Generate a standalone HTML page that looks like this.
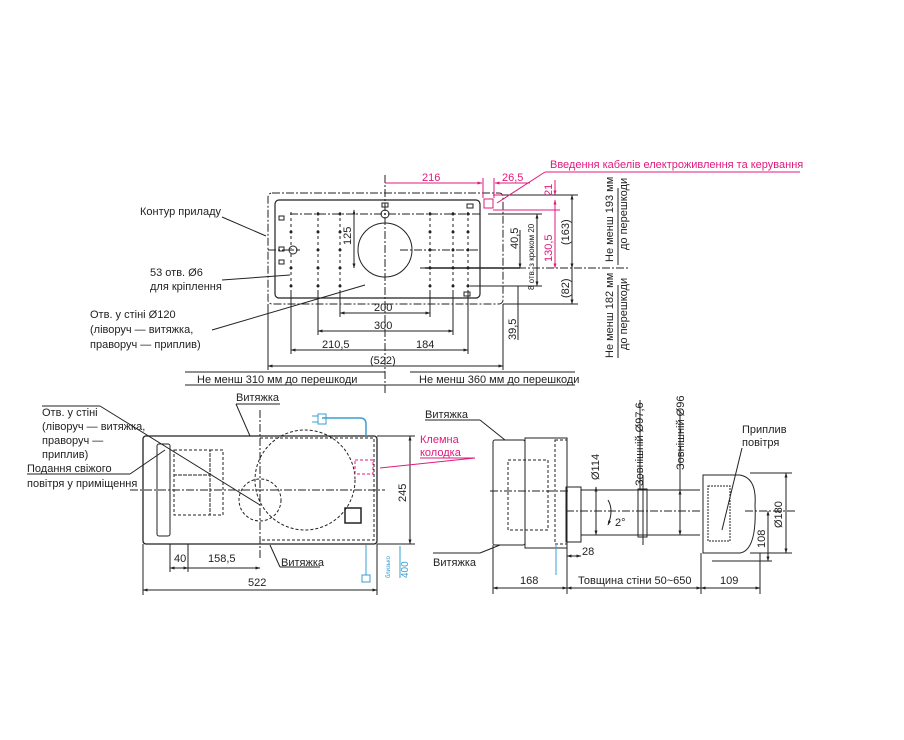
<!DOCTYPE html>
<html><head><meta charset="utf-8"><style>
html,body{margin:0;padding:0;background:#fff;}
svg{display:block;font-family:"Liberation Sans",sans-serif;}
text{font-size:11px;fill:#222;}
.m{fill:#e0197d;}
.b{fill:#3a9fd0;}
</style></head><body>
<svg width="904" height="740" viewBox="0 0 904 740" xmlns="http://www.w3.org/2000/svg">
<defs>
<marker id="a" viewBox="0 0 10 10" refX="9" refY="5" markerWidth="5" markerHeight="5" orient="auto-start-reverse"><path d="M0,2 L10,5 L0,8z" fill="#222"/></marker>
<marker id="am" viewBox="0 0 10 10" refX="9" refY="5" markerWidth="5" markerHeight="5" orient="auto-start-reverse"><path d="M0,2 L10,5 L0,8z" fill="#e0197d"/></marker>
</defs>
<g stroke="#222" fill="none" stroke-width="1">
<!-- TOP VIEW -->
<rect x="268" y="193" width="235" height="111" rx="4" stroke-dasharray="8,2,2,2"/>
<rect x="275" y="200" width="205" height="98" rx="4" stroke-width="1.2"/>
<circle cx="385" cy="250" r="27"/>
<circle cx="385" cy="214" r="4"/><circle cx="293" cy="250" r="4"/>
<line x1="385" y1="175" x2="385" y2="395" stroke-dasharray="8,2,2,2"/>
<line x1="268" y1="250" x2="300" y2="250" stroke-dasharray="8,2,2,2"/>
<line x1="400" y1="250" x2="480" y2="250" stroke-dasharray="8,2,2,2"/>
<line x1="290" y1="214" x2="480" y2="214" stroke-dasharray="8,2,2,2"/>
<line x1="420" y1="268" x2="630" y2="268" stroke-dasharray="8,2,2,2"/>
<line x1="425" y1="268" x2="520" y2="268" stroke-width="1.5"/>
<g stroke-dasharray="3,3">
<line x1="291" y1="212" x2="291" y2="290"/><line x1="318" y1="212" x2="318" y2="290"/><line x1="340" y1="212" x2="340" y2="290"/>
<line x1="430" y1="212" x2="430" y2="290"/><line x1="453" y1="212" x2="453" y2="290"/><line x1="468" y1="212" x2="468" y2="290"/>
</g>
<g fill="#222" stroke="none">
<circle cx="291" cy="232" r="1.5"/><circle cx="291" cy="268" r="1.5"/><circle cx="291" cy="286" r="1.5"/>
<circle cx="318" cy="214" r="1.5"/><circle cx="318" cy="232" r="1.5"/><circle cx="318" cy="250" r="1.5"/><circle cx="318" cy="268" r="1.5"/><circle cx="318" cy="286" r="1.5"/>
<circle cx="340" cy="214" r="1.5"/><circle cx="340" cy="232" r="1.5"/><circle cx="340" cy="250" r="1.5"/><circle cx="340" cy="268" r="1.5"/><circle cx="340" cy="286" r="1.5"/>
<circle cx="430" cy="214" r="1.5"/><circle cx="430" cy="232" r="1.5"/><circle cx="430" cy="250" r="1.5"/><circle cx="430" cy="268" r="1.5"/><circle cx="430" cy="286" r="1.5"/>
<circle cx="453" cy="214" r="1.5"/><circle cx="453" cy="232" r="1.5"/><circle cx="453" cy="250" r="1.5"/><circle cx="453" cy="268" r="1.5"/><circle cx="453" cy="286" r="1.5"/>
<circle cx="468" cy="214" r="1.5"/><circle cx="468" cy="232" r="1.5"/><circle cx="468" cy="250" r="1.5"/><circle cx="468" cy="268" r="1.5"/><circle cx="468" cy="286" r="1.5"/>
</g>
<rect x="279" y="216" width="5" height="4"/><rect x="279" y="247" width="5" height="4"/><rect x="279" y="260" width="5" height="4"/><rect x="382" y="203" width="6" height="4"/><rect x="467" y="204" width="6" height="4"/><rect x="464" y="292" width="6" height="4"/>
<rect x="484" y="199" width="9" height="9" stroke="#e0197d"/>
<!-- dims top -->
<line x1="385" y1="183" x2="482" y2="183" stroke="#e0197d" marker-end="url(#am)"/>
<line x1="495" y1="183" x2="530" y2="183" stroke="#e0197d" marker-start="url(#am)"/>
<line x1="483" y1="178" x2="483" y2="198" stroke="#e0197d"/><line x1="494" y1="178" x2="494" y2="198" stroke="#e0197d"/>
<line x1="555" y1="180" x2="555" y2="195" stroke="#e0197d" marker-end="url(#am)"/>
<line x1="555" y1="200" x2="555" y2="268" stroke="#e0197d" marker-start="url(#am)" marker-end="url(#am)"/>
<line x1="493" y1="195" x2="560" y2="195" stroke="#e0197d"/><line x1="493" y1="210" x2="560" y2="210" stroke="#e0197d"/>
<line x1="572" y1="195" x2="572" y2="268" marker-start="url(#a)" marker-end="url(#a)"/>
<line x1="572" y1="268" x2="572" y2="304" marker-end="url(#a)"/>
<line x1="503" y1="195" x2="578" y2="195"/><line x1="503" y1="304" x2="578" y2="304"/>
<line x1="537" y1="214" x2="537" y2="286" marker-start="url(#a)" marker-end="url(#a)"/>
<line x1="470" y1="286" x2="542" y2="286"/><line x1="488" y1="214" x2="542" y2="214"/>
<line x1="520" y1="230" x2="520" y2="268" marker-end="url(#a)"/>
<line x1="518" y1="286" x2="518" y2="340"/>
<line x1="354" y1="210" x2="354" y2="268" marker-start="url(#a)" marker-end="url(#a)"/>
<line x1="340" y1="313" x2="430" y2="313" marker-start="url(#a)" marker-end="url(#a)"/>
<line x1="318" y1="331" x2="453" y2="331" marker-start="url(#a)" marker-end="url(#a)"/>
<line x1="291" y1="350" x2="468" y2="350" marker-start="url(#a)" marker-end="url(#a)"/>
<line x1="268" y1="366" x2="503" y2="366" marker-start="url(#a)" marker-end="url(#a)"/>
<line x1="268" y1="304" x2="268" y2="370"/><line x1="503" y1="304" x2="503" y2="370"/>
<line x1="291" y1="290" x2="291" y2="354"/><line x1="468" y1="290" x2="468" y2="354"/>
<line x1="318" y1="290" x2="318" y2="335"/><line x1="453" y1="290" x2="453" y2="335"/>
<line x1="340" y1="290" x2="340" y2="317"/><line x1="430" y1="290" x2="430" y2="317"/>
<line x1="185" y1="385" x2="575" y2="385"/>
<line x1="185" y1="372" x2="385" y2="372"/><line x1="410" y1="372" x2="575" y2="372"/>
<!-- leaders -->
<line x1="222" y1="217" x2="266" y2="236"/><line x1="222" y1="280" x2="290" y2="275"/><line x1="212" y1="330" x2="365" y2="285"/>
<line x1="497" y1="203" x2="545" y2="172" stroke="#e0197d"/><line x1="545" y1="172" x2="800" y2="172" stroke="#e0197d"/>
<line x1="618" y1="188" x2="618" y2="265"/><line x1="618" y1="285" x2="618" y2="358"/>

<!-- FRONT VIEW -->
<rect x="143" y="436" width="234" height="108" rx="3" stroke-width="1.3"/>
<rect x="157" y="444" width="13" height="92" rx="2"/>
<g stroke-dasharray="3,2">
<rect x="174" y="450" width="36" height="25"/><rect x="174" y="475" width="36" height="40"/><rect x="210" y="450" width="13" height="65"/>
<circle cx="305" cy="480" r="50"/><circle cx="260" cy="500" r="21"/>
<path d="M260 438 H374 V540 H260"/>
</g>
<line x1="260" y1="410" x2="260" y2="560" stroke-dasharray="8,2,2,2"/>
<line x1="130" y1="490" x2="385" y2="490" stroke-dasharray="8,2,2,2"/>
<rect x="345" y="508" width="16" height="15" stroke-width="1.5"/>
<rect x="355" y="460" width="18" height="14" stroke="#e0197d" stroke-dasharray="3,2"/>
<path d="M322 418 H360 Q366 418 366 424 V436" stroke="#3a9fd0" stroke-width="1.5"/>
<path d="M318 414 H326 V424 H318z M312 416 H318 M312 422 H318" stroke="#3a9fd0"/>
<path d="M366 545 V575 M362 575 H370 V582 H362z" stroke="#3a9fd0"/>
<line x1="380" y1="544" x2="408" y2="544" stroke="#3a9fd0"/>
<line x1="400" y1="546" x2="400" y2="578" stroke="#3a9fd0"/>
<line x1="377" y1="436" x2="415" y2="436"/><line x1="377" y1="544" x2="415" y2="544"/>
<line x1="410" y1="436" x2="410" y2="544" marker-start="url(#a)" marker-end="url(#a)"/>
<line x1="143" y1="590" x2="377" y2="590" marker-start="url(#a)" marker-end="url(#a)"/>
<line x1="143" y1="544" x2="143" y2="595"/><line x1="377" y1="544" x2="377" y2="595"/>
<line x1="170" y1="568" x2="188" y2="568" marker-start="url(#a)" marker-end="url(#a)"/>
<line x1="188" y1="568" x2="260" y2="568" marker-end="url(#a)"/>
<line x1="170" y1="544" x2="170" y2="572"/><line x1="188" y1="544" x2="188" y2="572"/>
<line x1="42" y1="406" x2="100" y2="406"/><line x1="100" y1="406" x2="260" y2="505"/>
<line x1="236" y1="404" x2="280" y2="404"/><line x1="236" y1="404" x2="250" y2="436"/>
<line x1="280" y1="567" x2="320" y2="567"/><line x1="280" y1="567" x2="270" y2="545"/>
<line x1="27" y1="474" x2="130" y2="474"/><line x1="130" y1="474" x2="165" y2="450"/>
<line x1="380" y1="468" x2="475" y2="458" stroke="#e0197d"/><line x1="420" y1="458" x2="475" y2="458" stroke="#e0197d"/>

<!-- SIDE VIEW -->
<rect x="493" y="440" width="32" height="105" rx="2"/>
<rect x="525" y="438" width="42" height="110"/>
<rect x="555" y="440" width="12" height="104" stroke-dasharray="3,2"/>
<rect x="508" y="460" width="40" height="70" stroke-dasharray="3,2"/>
<line x1="490" y1="491" x2="570" y2="491" stroke-dasharray="8,2,2,2"/>
<rect x="566" y="487" width="15" height="55"/>
<path d="M581 490 H700 M581 535 H700"/>
<rect x="638" y="489" width="9" height="48"/>
<line x1="566" y1="511" x2="700" y2="511" stroke-dasharray="8,2,2,2"/>
<path d="M703 475 H740 Q757 478 755 505 Q757 550 740 553 H703z"/>
<rect x="708" y="486" width="22" height="55" stroke-dasharray="2,1"/>
<line x1="745" y1="511" x2="795" y2="511" stroke-dasharray="8,2,2,2"/>
<path d="M608 500 Q614 510 608 525" marker-end="url(#a)"/>
<line x1="596" y1="487" x2="596" y2="535" marker-start="url(#a)" marker-end="url(#a)"/>
<line x1="680" y1="490" x2="680" y2="535" marker-start="url(#a)" marker-end="url(#a)"/>
<line x1="643" y1="475" x2="643" y2="545"/>
<line x1="640" y1="400" x2="640" y2="490"/><line x1="680" y1="410" x2="680" y2="490"/>
<line x1="786" y1="473" x2="786" y2="553" marker-start="url(#a)" marker-end="url(#a)"/>
<line x1="768" y1="511" x2="768" y2="561" marker-start="url(#a)" marker-end="url(#a)"/>
<line x1="750" y1="473" x2="792" y2="473"/><line x1="750" y1="553" x2="792" y2="553"/>
<line x1="712" y1="561" x2="772" y2="561"/>
<line x1="567" y1="556" x2="581" y2="556" marker-start="url(#a)" marker-end="url(#a)"/>
<line x1="493" y1="588" x2="567" y2="588" marker-start="url(#a)" marker-end="url(#a)"/>
<line x1="567" y1="588" x2="701" y2="588" marker-start="url(#a)" marker-end="url(#a)"/>
<line x1="701" y1="588" x2="760" y2="588" marker-start="url(#a)" marker-end="url(#a)"/>
<line x1="493" y1="545" x2="493" y2="594"/><line x1="567" y1="545" x2="567" y2="594"/><line x1="701" y1="553" x2="701" y2="594"/><line x1="760" y1="553" x2="760" y2="594"/>
<line x1="556" y1="545" x2="556" y2="575" stroke="#3a9fd0"/>
<line x1="425" y1="420" x2="480" y2="420"/><line x1="480" y1="420" x2="505" y2="440"/>
<line x1="433" y1="553" x2="480" y2="553"/><line x1="480" y1="553" x2="500" y2="545"/>
<line x1="742" y1="448" x2="722" y2="530"/>
</g>
<!-- TEXT -->
<text x="550" y="168" class="m">Введення кабелів електроживлення та керування</text>
<text x="422" y="181" style="fill:#e0197d">216</text>
<text x="502" y="181" style="fill:#e0197d">26,5</text>
<text x="140" y="215">Контур приладу</text>
<text x="150" y="276">53 отв. Ø6</text>
<text x="150" y="290">для кріплення</text>
<text x="90" y="318">Отв. у стіні Ø120</text>
<text x="90" y="333">(ліворуч — витяжка,</text>
<text x="90" y="348">праворуч — приплив)</text>
<text x="374" y="311">200</text><text x="374" y="329">300</text>
<text x="322" y="348">210,5</text><text x="416" y="348">184</text>
<text x="370" y="364">(522)</text>
<text x="197" y="383">Не менш 310 мм до перешкоди</text>
<text x="419" y="383">Не менш 360 мм до перешкоди</text>
<g transform="rotate(-90)">
<text x="-245" y="351">125</text>
<text x="-249" y="518">40,5</text>
<text x="-290" y="534" style="font-size:8px">8 отв. з кроком 20</text>
<text x="-262" y="552" style="fill:#e0197d">130,5</text>
<text x="-196" y="552" style="fill:#e0197d">21</text>
<text x="-245" y="569">(163)</text>
<text x="-298" y="569">(82)</text>
<text x="-340" y="516">39,5</text>
<text x="-262" y="613">Не менш 193 мм</text>
<text x="-250" y="627">до перешкоди</text>
<text x="-358" y="613">Не менш 182 мм</text>
<text x="-350" y="627">до перешкоди</text>
<text x="-502" y="406">245</text>
<text x="-578" y="408" style="font-size:10px;fill:#3a9fd0">400</text>
<text x="-578" y="390" style="font-size:6px;fill:#3a9fd0">близько</text>
<text x="-480" y="599">Ø114</text>
<text x="-486" y="643">Зовнішній Ø97,6</text>
<text x="-470" y="684">Зовнішній Ø96</text>
<text x="-528" y="782">Ø180</text>
<text x="-548" y="765">108</text>
</g>
<text x="42" y="416">Отв. у стіні</text>
<text x="42" y="430">(ліворуч — витяжка,</text>
<text x="42" y="444">праворуч —</text>
<text x="42" y="458">приплив)</text>
<text x="27" y="472">Подання свіжого</text>
<text x="27" y="487">повітря у приміщення</text>
<text x="236" y="401">Витяжка</text>
<text x="281" y="566">Витяжка</text>
<text x="420" y="443" style="fill:#e0197d">Клемна</text>
<text x="420" y="456" style="fill:#e0197d">колодка</text>
<text x="174" y="562">40</text><text x="208" y="562">158,5</text>
<text x="248" y="586">522</text>
<text x="425" y="418">Витяжка</text>
<text x="433" y="566">Витяжка</text>
<text x="742" y="433">Приплив</text>
<text x="742" y="446">повітря</text>
<text x="615" y="526">2°</text>
<text x="582" y="555">28</text>
<text x="520" y="584">168</text>
<text x="578" y="584">Товщина стіни 50~650</text>
<text x="720" y="584">109</text>
</svg>
</body></html>
